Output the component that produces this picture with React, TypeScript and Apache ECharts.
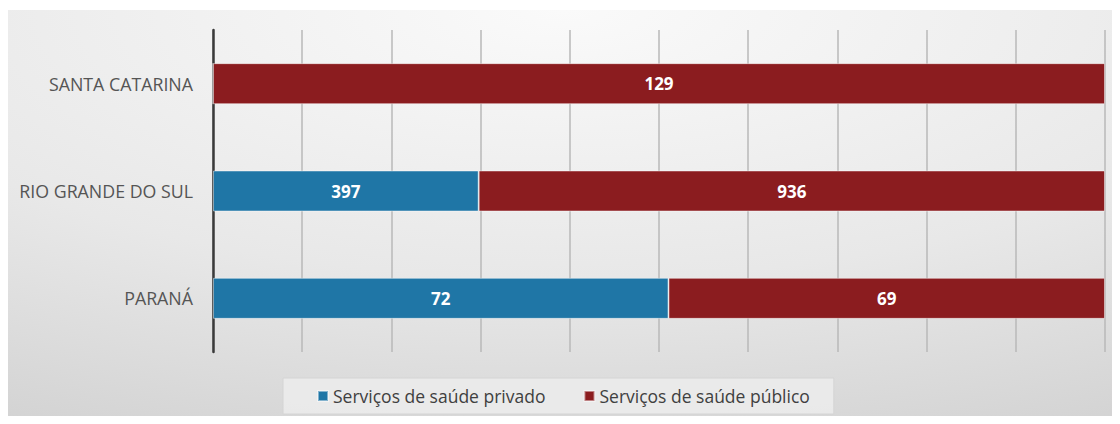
import React, { useEffect, useRef } from "react";
import * as echarts from "echarts";

const categories = ["SANTA CATARINA", "RIO GRANDE DO SUL", "PARANÁ"];
const privado = [0, 397, 72];
const publico = [129, 936, 69];
const seriesNames = ["Serviços de saúde privado", "Serviços de saúde público"];

export default function App() {
  const ref = useRef<HTMLDivElement>(null);
  useEffect(() => {
    if (!ref.current) return;
    const chart = echarts.init(ref.current, null, { renderer: "svg" });
    const totals = categories.map((_, i) => privado[i] + publico[i]);
    const pct = (arr: number[]) =>
      arr.map((v, i) => ({ value: (v / totals[i]) * 100, raw: v }));
    const font = "'Open Sans', 'Noto Sans', sans-serif";
    const labelCfg = {
      show: true,
      position: "inside",
      color: "#ffffff",
      fontWeight: "bold",
      fontSize: 17,
      fontFamily: font,
      formatter: (p: any) => (p.data.raw ? String(p.data.raw) : ""),
    };
    chart.setOption({
      animation: false,
      backgroundColor: "#ffffff",
      graphic: [
        {
          type: "rect",
          z: -10,
          silent: true,
          shape: { x: 7, y: 10, width: 1113, height: 411 },
          style: {
            fill: {
              type: "radial",
              x: 0.5,
              y: 0,
              r: 1.45,
              colorStops: [
                { offset: 0, color: "#fafafa" },
                { offset: 0.45, color: "#e8e8e8" },
                { offset: 1, color: "#c4c4c4" },
              ],
            },
          },
        },
      ],
      legend: {
        top: 378,
        left: 283,
        itemWidth: 10,
        itemHeight: 10,
        itemGap: 38,
        icon: "rect",
        backgroundColor: "rgba(236,236,236,0.85)",
        borderColor: "#d4d4d4",
        borderWidth: 1,
        padding: [9, 24, 9, 34],
        textStyle: { color: "#404040", fontSize: 17.5, fontFamily: font },
        data: seriesNames,
      },
      grid: { left: 213, right: 15, top: 30, bottom: 72 },
      xAxis: {
        type: "value",
        min: 0,
        max: 100,
        interval: 10,
        axisLabel: { show: false },
        axisLine: { show: false },
        axisTick: { show: false },
        splitLine: {
          show: true,
          lineStyle: { color: "#b8b8b8", width: 1.5 },
        },
      },
      yAxis: {
        type: "category",
        data: categories,
        inverse: true,
        axisLine: { show: true, lineStyle: { color: "#3a3a3a", width: 2.5 } },
        axisTick: { show: false },
        axisLabel: {
          color: "#555555",
          fontSize: 17.8,
          fontFamily: font,
          margin: 20,
        },
      },
      series: [
        {
          name: seriesNames[0],
          type: "bar",
          stack: "total",
          barWidth: 41,
          data: pct(privado),
          itemStyle: {
            color: "#1f76a6",
            borderColor: "rgba(255,255,255,0.45)",
            borderWidth: 1,
          },
          label: labelCfg,
        },
        {
          name: seriesNames[1],
          type: "bar",
          stack: "total",
          barWidth: 41,
          data: pct(publico),
          itemStyle: {
            color: "#8b1c1f",
            borderColor: "rgba(255,255,255,0.45)",
            borderWidth: 1,
          },
          label: labelCfg,
        },
      ],
    });
    return () => chart.dispose();
  }, []);
  return <div ref={ref} style={{ width: 1120, height: 424, margin: -8 }} />;
}
